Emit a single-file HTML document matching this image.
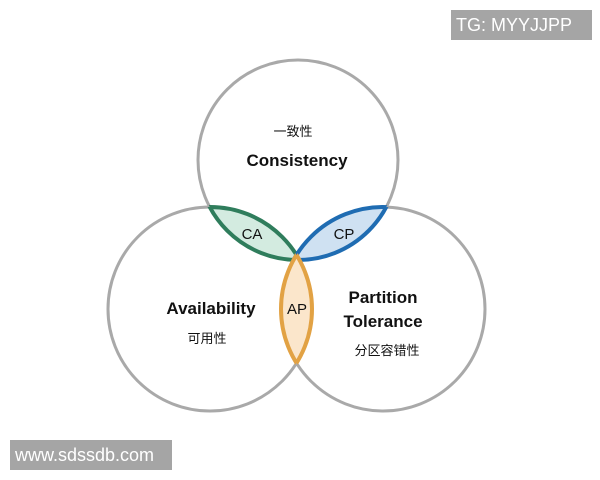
<!DOCTYPE html>
<html><head><meta charset="utf-8"><style>
html,body{margin:0;padding:0;background:#fff;}
.wm{position:absolute;background:#a5a5a5;color:#fff;font-family:"Liberation Sans",sans-serif;font-size:18px;line-height:30px;}
</style></head><body>
<div style="position:relative;width:600px;height:480px;overflow:hidden;">
<svg width="600" height="480" xmlns="http://www.w3.org/2000/svg" style="position:absolute;left:0;top:0">
<defs>
<clipPath id="cT"><circle cx="298" cy="160" r="100"/></clipPath>
<clipPath id="cL"><circle cx="210" cy="309" r="102"/></clipPath>
<clipPath id="cR"><circle cx="383" cy="309" r="102"/></clipPath>
</defs>
<g fill="none" stroke="#a9a9a9" stroke-width="3">
<circle cx="298" cy="160" r="100"/>
<circle cx="210" cy="309" r="102"/>
<circle cx="383" cy="309" r="102"/>
</g>
<g clip-path="url(#cT)"><circle cx="210" cy="309" r="102" fill="#d3ebe0"/></g>
<g clip-path="url(#cT)"><circle cx="210" cy="309" r="102" fill="none" stroke="#2f7d5c" stroke-width="4"/></g>
<g clip-path="url(#cL)"><circle cx="298" cy="160" r="100" fill="none" stroke="#2f7d5c" stroke-width="4"/></g>
<g clip-path="url(#cT)"><circle cx="383" cy="309" r="102" fill="#cfe1f2"/></g>
<g clip-path="url(#cT)"><circle cx="383" cy="309" r="102" fill="none" stroke="#1f6cb2" stroke-width="4"/></g>
<g clip-path="url(#cR)"><circle cx="298" cy="160" r="100" fill="none" stroke="#1f6cb2" stroke-width="4"/></g>
<g clip-path="url(#cL)"><circle cx="383" cy="309" r="102" fill="#fbe6cb"/></g>
<g clip-path="url(#cL)"><circle cx="383" cy="309" r="102" fill="none" stroke="#e2a244" stroke-width="4"/></g>
<g clip-path="url(#cR)"><circle cx="210" cy="309" r="102" fill="none" stroke="#e2a244" stroke-width="4"/></g>
<g font-family="'Liberation Sans','Noto Sans CJK SC',sans-serif" text-anchor="middle" fill="#111">
<text x="293" y="136" font-size="13">一致性</text>
<text x="297" y="166" font-size="17" font-weight="bold">Consistency</text>
<text x="252" y="239" font-size="15">CA</text>
<text x="344" y="239" font-size="15">CP</text>
<text x="297" y="314" font-size="15">AP</text>
<text x="211" y="314" font-size="17" font-weight="bold">Availability</text>
<text x="207" y="343" font-size="13">可用性</text>
<text x="383" y="303" font-size="17" font-weight="bold">Partition</text>
<text x="383" y="327" font-size="17" font-weight="bold">Tolerance</text>
<text x="387" y="355" font-size="13">分区容错性</text>
</g>
</svg>
<div class="wm" style="left:451px;top:10px;width:141px;height:30px;padding-left:5px;box-sizing:border-box;">TG: MYYJJPP</div>
<div class="wm" style="left:10px;top:440px;width:162px;height:30px;padding-left:5px;box-sizing:border-box;">www.sdssdb.com</div>
</div>
</body></html>
